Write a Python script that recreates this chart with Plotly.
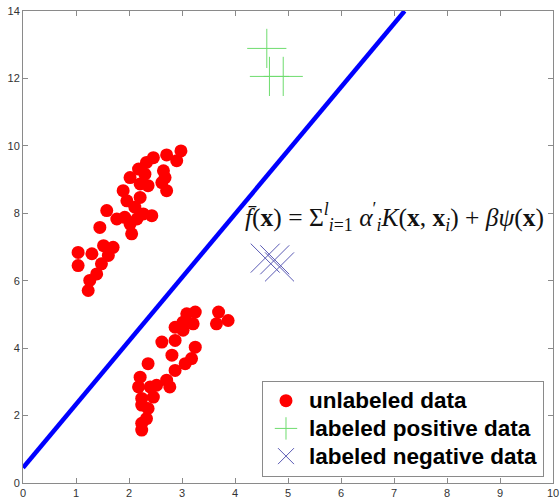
import plotly.graph_objects as go

# unlabeled data (two clusters)
unl_x = [2.98, 2.90, 2.71, 2.46, 2.33, 2.18, 2.02, 2.30, 2.65, 2.68, 2.62, 1.89, 2.21, 2.36, 2.71,
         1.96, 2.21, 2.11, 1.58, 1.77, 1.92, 1.45, 2.02, 2.15, 2.43, 2.27, 2.05, 1.70, 1.52, 1.61,
         1.04, 1.30, 1.04, 1.48, 1.39, 1.26, 1.23,
         3.25, 3.09, 3.02, 3.21, 2.87, 3.02, 3.69, 3.87, 3.65, 2.62, 2.87, 2.81, 3.25, 3.18, 3.06,
         2.87, 2.36, 2.21, 2.18, 2.40, 2.52, 2.71, 2.77, 2.46, 2.24, 2.24, 2.36, 2.33, 2.24, 2.24]
unl_y = [9.85, 9.56, 9.73, 9.65, 9.51, 9.31, 9.06, 9.16, 9.26, 9.06, 8.91, 8.67, 8.87, 8.82, 8.67,
         8.37, 8.47, 8.18, 8.08, 7.83, 7.88, 7.58, 7.68, 7.83, 7.93, 7.98, 7.39, 6.99, 7.04, 6.75,
         6.84, 6.80, 6.45, 6.50, 6.20, 6.01, 5.71,
         5.07, 5.02, 4.77, 4.72, 4.62, 4.53, 5.07, 4.82, 4.72, 4.18, 4.23, 3.79, 4.03, 3.69, 3.54,
         3.34, 3.54, 3.14, 2.85, 2.85, 2.90, 3.05, 2.85, 2.55, 2.51, 2.31, 2.21, 1.91, 1.77, 1.57]

# labeled positive data
pos_x = [4.60, 4.65, 4.91]
pos_y = [12.89, 12.06, 12.06]

# labeled negative data
neg_x = [4.57, 4.75, 4.84]
neg_y = [6.67, 6.62, 6.41]

# decision boundary
line_x = [0.0, 7.2]
line_y = [0.45, 14.0]

x_ticks = list(range(0, 11))
y_ticks = list(range(0, 15, 2))

legend_names = ["unlabeled data", "labeled positive data", "labeled negative data"]

formula = ("<i>f̄</i>(<b>x</b>) = Σ<sup><i>l</i></sup><sub><i>i</i>=1</sub> "
           "<i>α</i><sup>′</sup><sub><i>i</i></sub><i>K</i>(<b>x</b>, <b>x</b><sub><i>i</i></sub>)"
           " + <i>βψ</i>(<b>x</b>)")


def big(name):
    return '<span style="font-size:22.5px">' + name + "</span>"


fig = go.Figure()
fig.add_trace(go.Scatter(x=line_x, y=line_y, mode="lines", showlegend=False,
                         line=dict(color="#0000ff", width=4.5), hoverinfo="skip"))
fig.add_trace(go.Scatter(x=unl_x, y=unl_y, mode="markers", name=big(legend_names[0]),
                         marker=dict(color="#ff0000", size=13, line=dict(width=0))))
fig.add_trace(go.Scatter(x=pos_x, y=pos_y, mode="markers", name=big(legend_names[1]),
                         marker=dict(symbol="cross-thin", size=28, color="rgb(110,220,110)",
                                     line=dict(color="rgb(110,220,110)", width=1))))
fig.add_trace(go.Scatter(x=neg_x, y=neg_y, mode="markers", name=big(legend_names[2]),
                         marker=dict(symbol="x-thin", size=29, color="#5a5ab4",
                                     line=dict(color="#5a5ab4", width=1))))

fig.add_annotation(x=7.0, y=7.9, xref="x", yref="y", text=formula, showarrow=False,
                   font=dict(family="Liberation Serif", size=25.5, color="#111"))

axis_common = dict(showline=True, mirror="ticks", linecolor="#8a8a8a", linewidth=1,
                   ticks="inside", ticklen=5, tickcolor="#8a8a8a", showgrid=False,
                   zeroline=False, automargin=False,
                   tickfont=dict(family="Liberation Sans", size=11, color="#333"))

fig.update_xaxes(range=[0, 10], tickvals=x_ticks, ticklabelstandoff=0, **axis_common)
fig.update_yaxes(range=[0, 14], tickvals=y_ticks, **axis_common)

fig.update_layout(
    width=560, height=499,
    margin=dict(l=23, r=7, t=11, b=16, autoexpand=False),
    plot_bgcolor="white", paper_bgcolor="white",
    legend=dict(x=0.983, y=0.013, xanchor="right", yanchor="bottom",
                bgcolor="white", bordercolor="#8a8a8a", borderwidth=1,
                font=dict(family="Liberation Sans", size=19, color="black", weight="bold"),
                itemwidth=36, tracegroupgap=0),
)

# remove the browser's default 8px page margin so the 560x499 figure fills the window
fig.write_html("out.html", config={"displayModeBar": False},
               post_script="document.body.style.margin='0';document.body.style.overflow='hidden';")
